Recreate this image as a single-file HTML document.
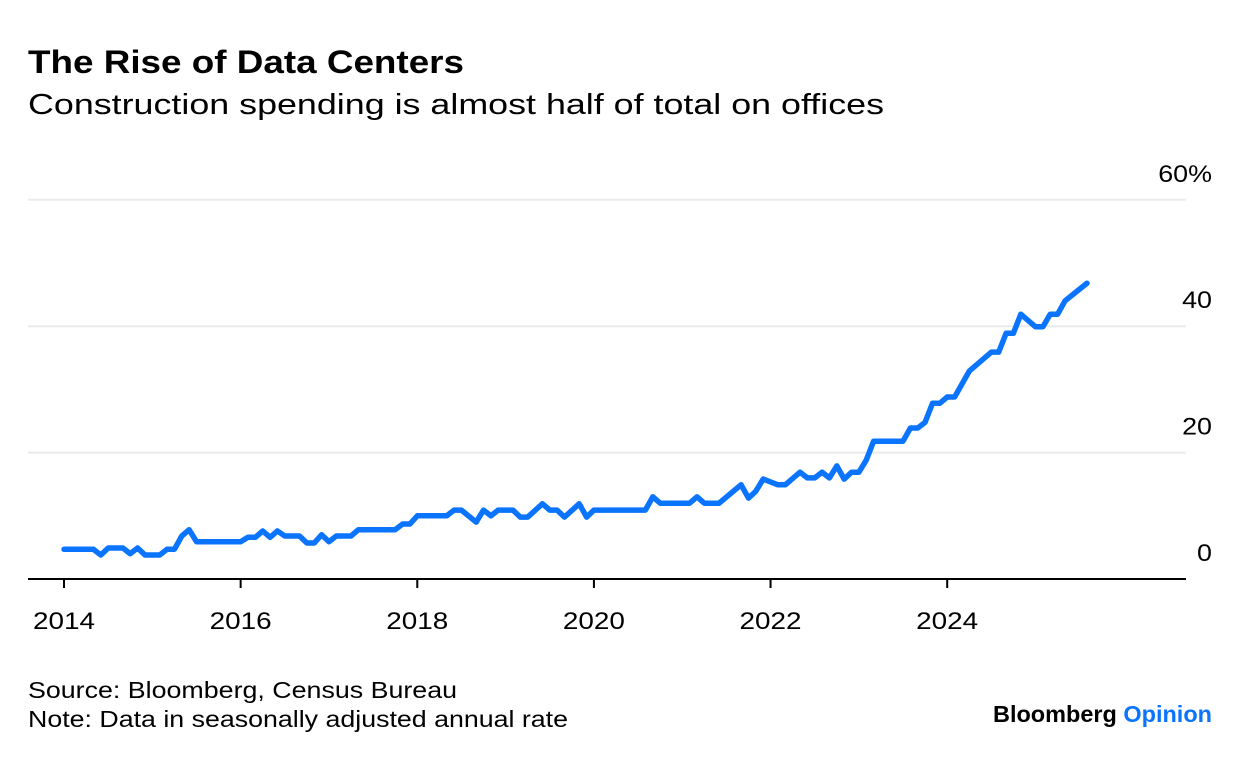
<!DOCTYPE html>
<html><head><meta charset="utf-8">
<style>
body{margin:0;background:#fff;width:1240px;height:758px;overflow:hidden;font-family:"Liberation Sans",sans-serif;color:#000}
</style></head><body>
<svg width="1240" height="758" style="position:absolute;left:0;top:0;font-family:'Liberation Sans',sans-serif">
<text x="28" y="73" font-size="32" font-weight="bold" textLength="436" lengthAdjust="spacingAndGlyphs">The Rise of Data Centers</text>
<text x="28" y="114" font-size="29" textLength="856" lengthAdjust="spacingAndGlyphs">Construction spending is almost half of total on offices</text>
<g id="grid"></g>
<g id="xaxis"></g>
<path id="line" fill="none" stroke="#0a74ff" stroke-width="5.5" stroke-linejoin="round" stroke-linecap="round"></path>
<text x="28" y="698" font-size="23" textLength="429" lengthAdjust="spacingAndGlyphs">Source: Bloomberg, Census Bureau</text>
<text x="28" y="727" font-size="23" textLength="540" lengthAdjust="spacingAndGlyphs">Note: Data in seasonally adjusted annual rate</text>
<text x="993" y="722" font-size="23" font-weight="bold" textLength="219" lengthAdjust="spacingAndGlyphs">Bloomberg <tspan fill="#0a74ff">Opinion</tspan></text>
</svg>
<script>
const months=[0,4,5,6,8,9,10,11,13,14,15,16,17,18,24,25,26,27,28,29,30,32,33,34,35,36,37,39,40,45,46,47,48,52,53,54,56,57,58,59,61,62,63,65,66,67,68,70,71,72,79,80,81,85,86,87,89,92,93,94,95,97,98,100,101,102,103,104,105,106,107,108,109,110,114,115,116,117,118,119,120,121,123,126,127,128,129,130,132,133,134,135,136,139];
const values=[4.7,4.7,3.8,4.9,4.9,4.0,4.9,3.8,3.8,4.7,4.7,6.8,7.8,5.9,5.9,6.6,6.6,7.6,6.6,7.6,6.8,6.8,5.7,5.7,7.0,5.9,6.8,6.8,7.8,7.8,8.7,8.7,10.0,10.0,10.9,10.9,9.0,10.9,10.0,10.9,10.9,9.8,9.8,11.9,10.9,10.9,9.8,11.9,9.8,10.9,10.9,13.0,12.0,12.0,13.0,12.0,12.0,14.9,12.8,13.9,15.8,14.9,14.9,16.9,16.0,16.0,16.9,16.0,17.9,15.8,16.9,16.9,18.8,21.8,21.8,23.9,23.9,24.8,27.8,27.8,28.8,28.8,32.9,35.9,35.9,38.9,38.9,41.9,39.9,39.9,41.9,41.9,44.0,46.8];
const yTicks=[0,20,40,60];
const yLabels=["0","20","40","60%"];
const years=[2014,2016,2018,2020,2022,2024];
const NS="http://www.w3.org/2000/svg";
const xs=m=>64+m*7.36;
const ys=v=>579-v*6.32;
const grid=document.getElementById('grid'),xa=document.getElementById('xaxis');
yTicks.forEach((t,i)=>{
 if(t>0){const l=document.createElementNS(NS,'line');
 l.setAttribute('x1',28);l.setAttribute('x2',1186);l.setAttribute('y1',ys(t));l.setAttribute('y2',ys(t));
 l.setAttribute('stroke','#ebebeb');l.setAttribute('stroke-width','2');
 
 
 grid.appendChild(l);}
 const tx=document.createElementNS(NS,'text');
 tx.setAttribute('x',1212);tx.setAttribute('y',ys(t)-18);tx.setAttribute('text-anchor','end');tx.setAttribute('font-size','24');
 tx.setAttribute('transform','translate(1212,0) scale(1.12,1) translate(-1212,0)');
 tx.textContent=yLabels[i];
 
 
 grid.appendChild(tx);
});
const base=document.createElementNS(NS,'line');
base.setAttribute('x1',28);base.setAttribute('x2',1186);base.setAttribute('y1',579);base.setAttribute('y2',579);
base.setAttribute('stroke','#000');base.setAttribute('stroke-width','2');


xa.appendChild(base);
years.forEach(y=>{
 const x=xs((y-2014)*12);
 const t=document.createElementNS(NS,'line');
 t.setAttribute('x1',x);t.setAttribute('x2',x);t.setAttribute('y1',579);t.setAttribute('y2',588);
 t.setAttribute('stroke','#000');t.setAttribute('stroke-width','2');
 
 
 xa.appendChild(t);
 const tx=document.createElementNS(NS,'text');
 tx.setAttribute('x',x);tx.setAttribute('y',629);tx.setAttribute('text-anchor','middle');tx.setAttribute('font-size','24');
 tx.setAttribute('textLength','62');tx.setAttribute('lengthAdjust','spacingAndGlyphs');
 tx.textContent=y;
 
 
 xa.appendChild(tx);
});
document.getElementById('line').setAttribute('d',months.map((m,i)=>(i?'L':'M')+xs(m).toFixed(1)+','+ys(values[i]).toFixed(1)).join(''));
</script>
</body></html>
